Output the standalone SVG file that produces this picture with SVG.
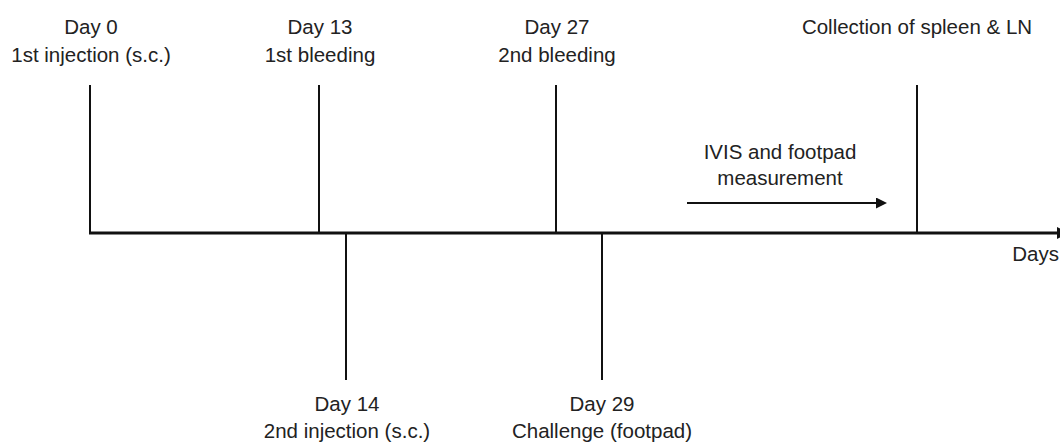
<svg xmlns="http://www.w3.org/2000/svg" width="1060" height="446" viewBox="0 0 1060 446">
<style>
text{font-family:"Liberation Sans",Arial,sans-serif;font-size:20.5px;fill:#222;text-anchor:middle}
.tick{stroke:#111;stroke-width:2;fill:none}
.axis{stroke:#111;stroke-width:3;fill:none}
.arr{stroke:#111;stroke-width:2;fill:none}
</style>
<defs>
<marker id="head" viewBox="0 0 10 10" refX="0" refY="5" markerWidth="6" markerHeight="5.5" markerUnits="strokeWidth" orient="auto">
<path d="M0,0 L10,5 L0,10 Z" fill="#111"/>
</marker>
<marker id="axhead" viewBox="0 0 10 10" refX="0" refY="5" markerWidth="4" markerHeight="4" markerUnits="strokeWidth" orient="auto">
<path d="M0,0 L10,5 L0,10 Z" fill="#111"/>
</marker>
</defs>
<g id="connectors">
<line class="axis" x1="89" y1="233" x2="1057" y2="233" marker-end="url(#axhead)"/>
<line class="arr" x1="687" y1="203" x2="876" y2="203" marker-end="url(#head)"/>
</g>
<g id="day0">
<line class="tick" x1="90" y1="85" x2="90" y2="233"/>
<text x="91" y="34">Day 0</text>
<text x="91" y="62">1st injection (s.c.)</text>
</g>
<g id="day13">
<line class="tick" x1="319" y1="85" x2="319" y2="233"/>
<text x="320" y="34">Day 13</text>
<text x="320" y="62">1st bleeding</text>
</g>
<g id="day27">
<line class="tick" x1="556" y1="85" x2="556" y2="233"/>
<text x="557" y="34">Day 27</text>
<text x="557" y="62">2nd bleeding</text>
</g>
<g id="collection">
<line class="tick" x1="917" y1="85" x2="917" y2="233"/>
<text x="917" y="34">Collection of spleen &amp; LN</text>
</g>
<g id="day14">
<line class="tick" x1="346" y1="233" x2="346" y2="380"/>
<text x="347" y="411">Day 14</text>
<text x="347" y="438">2nd injection (s.c.)</text>
</g>
<g id="day29">
<line class="tick" x1="602" y1="233" x2="602" y2="380"/>
<text x="602" y="411">Day 29</text>
<text x="602" y="438">Challenge (footpad)</text>
</g>
<g id="ivis">
<text x="780" y="159">IVIS and footpad</text>
<text x="780" y="185">measurement</text>
</g>
<g id="days">
<text x="1059" y="261" style="text-anchor:end">Days</text>
</g>
</svg>
